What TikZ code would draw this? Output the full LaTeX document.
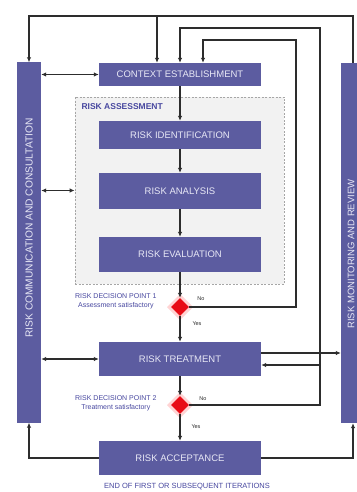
\documentclass[tikz,border=0pt]{standalone}
\usepackage{fontspec}
\setmainfont{Liberation Sans}
\usetikzlibrary{shapes.geometric,arrows.meta,calc}
\definecolor{boxblue}{RGB}{92,92,160}
\definecolor{txtblue}{RGB}{72,72,160}
\definecolor{linegray}{RGB}{45,45,45}
\definecolor{boxtext}{RGB}{232,232,245}
\definecolor{dred}{RGB}{232,12,22}
\begin{document}
\begin{tikzpicture}[x=1pt,y=-1pt,
  procbox/.style={fill=boxblue,text=boxtext,minimum width=162pt,inner sep=0pt,font=\fontsize{9.5}{11}\selectfont},
  sidebar/.style={fill=boxblue,minimum width=24pt,minimum height=360pt,inner sep=0pt},
  bartext/.style={text=boxtext,rotate=90,font=\fontsize{9.5}{11}\selectfont},
  conn/.style={draw=linegray,line width=1.2pt,-{Latex[length=5pt,width=4.5pt]}},
  dconn/.style={draw=linegray,line width=1.2pt,{Latex[length=5pt,width=4.5pt]}-{Latex[length=5pt,width=4.5pt]}},
  decision/.style={diamond,fill=dred,minimum width=18pt,minimum height=18pt,inner sep=0pt},
  glow/.style={fill=red!30,opacity=0.55},
  declabel/.style={align=center,text=txtblue,font=\fontsize{7}{9}\selectfont},
  yesno/.style={text=linegray,font=\fontsize{5.5}{6}\selectfont}
]
\useasboundingbox (0,0) rectangle (356,492);
\fill[white] (0,0) rectangle (356,492);

% side bars
\node[sidebar] (barL) at (29,242.5) {};
\node[bartext,font=\fontsize{10.2}{12}\selectfont] (barLtext) at (29,228) {RISK COMMUNICATION AND CONSULTATION};
\node[sidebar] (barR) at (353,243) {};
\node[bartext] (barRtext) at (351,254) {RISK MONITORING AND REVIEW};

% assessment frame
\node[fill=gray!10,draw=gray!70,dash pattern=on 2pt off 1.5pt,line width=0.8pt,
      minimum width=209pt,minimum height=187pt,inner sep=0pt] (assess) at (179.5,190.5) {};
\node[anchor=west,text=txtblue,font=\bfseries\fontsize{8.5}{10}\selectfont] (assesslabel) at (78,107) {RISK ASSESSMENT};

% process boxes
\node[procbox,minimum height=23pt] (ctx) at (180,74.5) {CONTEXT ESTABLISHMENT};
\node[procbox,minimum height=28pt] (ident) at (180,135) {RISK IDENTIFICATION};
\node[procbox,minimum height=36pt] (analysis) at (180,191) {RISK ANALYSIS};
\node[procbox,minimum height=35pt] (eval) at (180,254.5) {RISK EVALUATION};
\node[procbox,minimum height=34pt] (treat) at (180,359) {RISK TREATMENT};
\node[procbox,minimum height=34pt] (accept) at (180,458) {RISK ACCEPTANCE};

% decision points
\coordinate (d1c) at (180,307);
\coordinate (d2c) at (180,405);
\fill[glow] ($(d1c)+(0,-13)$) -- ($(d1c)+(13,0)$) -- ($(d1c)+(0,13)$) -- ($(d1c)+(-13,0)$) -- cycle;
\fill[glow] ($(d2c)+(0,-13)$) -- ($(d2c)+(13,0)$) -- ($(d2c)+(0,13)$) -- ($(d2c)+(-13,0)$) -- cycle;
\node[decision] (d1) at (d1c) {};
\node[decision] (d2) at (d2c) {};

\node[declabel,anchor=east] (d1label) at (160,301) {RISK DECISION POINT 1\\Assessment satisfactory};
\node[declabel,anchor=east] (d2label) at (160,403) {RISK DECISION POINT 2\\Treatment satisfactory};
\node[yesno] (no1) at (201,299) {No};
\node[yesno] (yes1) at (197,324) {Yes};
\node[yesno] (no2) at (203,399) {No};
\node[yesno] (yes2) at (196,427) {Yes};

\node[text=txtblue,font=\fontsize{7.5}{9}\selectfont] (endlabel) at (187,487) {END OF FIRST OR SUBSEQUENT ITERATIONS};

% main chain
\draw[conn] (ctx.south) -- (ident.north);
\draw[conn] (ident.south) -- (analysis.north);
\draw[conn] (analysis.south) -- (eval.north);
\draw[conn] (eval.south) -- (d1.north);
\draw[conn] (d1.south) -- (treat.north);
\draw[conn] (treat.south) -- (d2.north);
\draw[conn] (d2.south) -- (accept.north);

% top loop from monitoring bar
\coordinate (topR) at (353,16);
\coordinate (topL) at (29,16);
\coordinate (topC) at (157,16);
\draw[conn] (barR.north) -- (topR) -- (topL) -- (barL.north);
\draw[conn] (topC) -- (topC |- ctx.north);

% decision 2 "No" loop
\coordinate (l2b) at (320,28);
\coordinate (l2c) at (180,28);
\draw[conn] (d2.east) -- (d2.east -| l2b) -- (l2b) -- (l2c) -- (ctx.north);

% decision 1 "No" loop
\coordinate (l1b) at (296,40);
\coordinate (l1c) at (203,40);
\draw[conn] (d1.east) -- (d1.east -| l1b) -- (l1b) -- (l1c) -- (l1c |- ctx.north);

% communication links
\draw[dconn] (barL.east |- ctx.west) -- (ctx.west);
\draw[dconn] (barL.east |- assess.west) -- (assess.west);
\draw[dconn] (barL.east |- treat.west) -- (treat.west);

% monitoring links
\draw[conn] ([yshift=6pt]treat.east) -- ([yshift=6pt]treat.east -| barR.west);
\coordinate (j2) at (320,365);
\draw[conn] (j2) -- (j2 -| treat.east);

% acceptance to bars
\draw[conn] (accept.west) -| (barL.south);
\draw[conn] (accept.east) -| (barR.south);
\end{tikzpicture}
\end{document}
